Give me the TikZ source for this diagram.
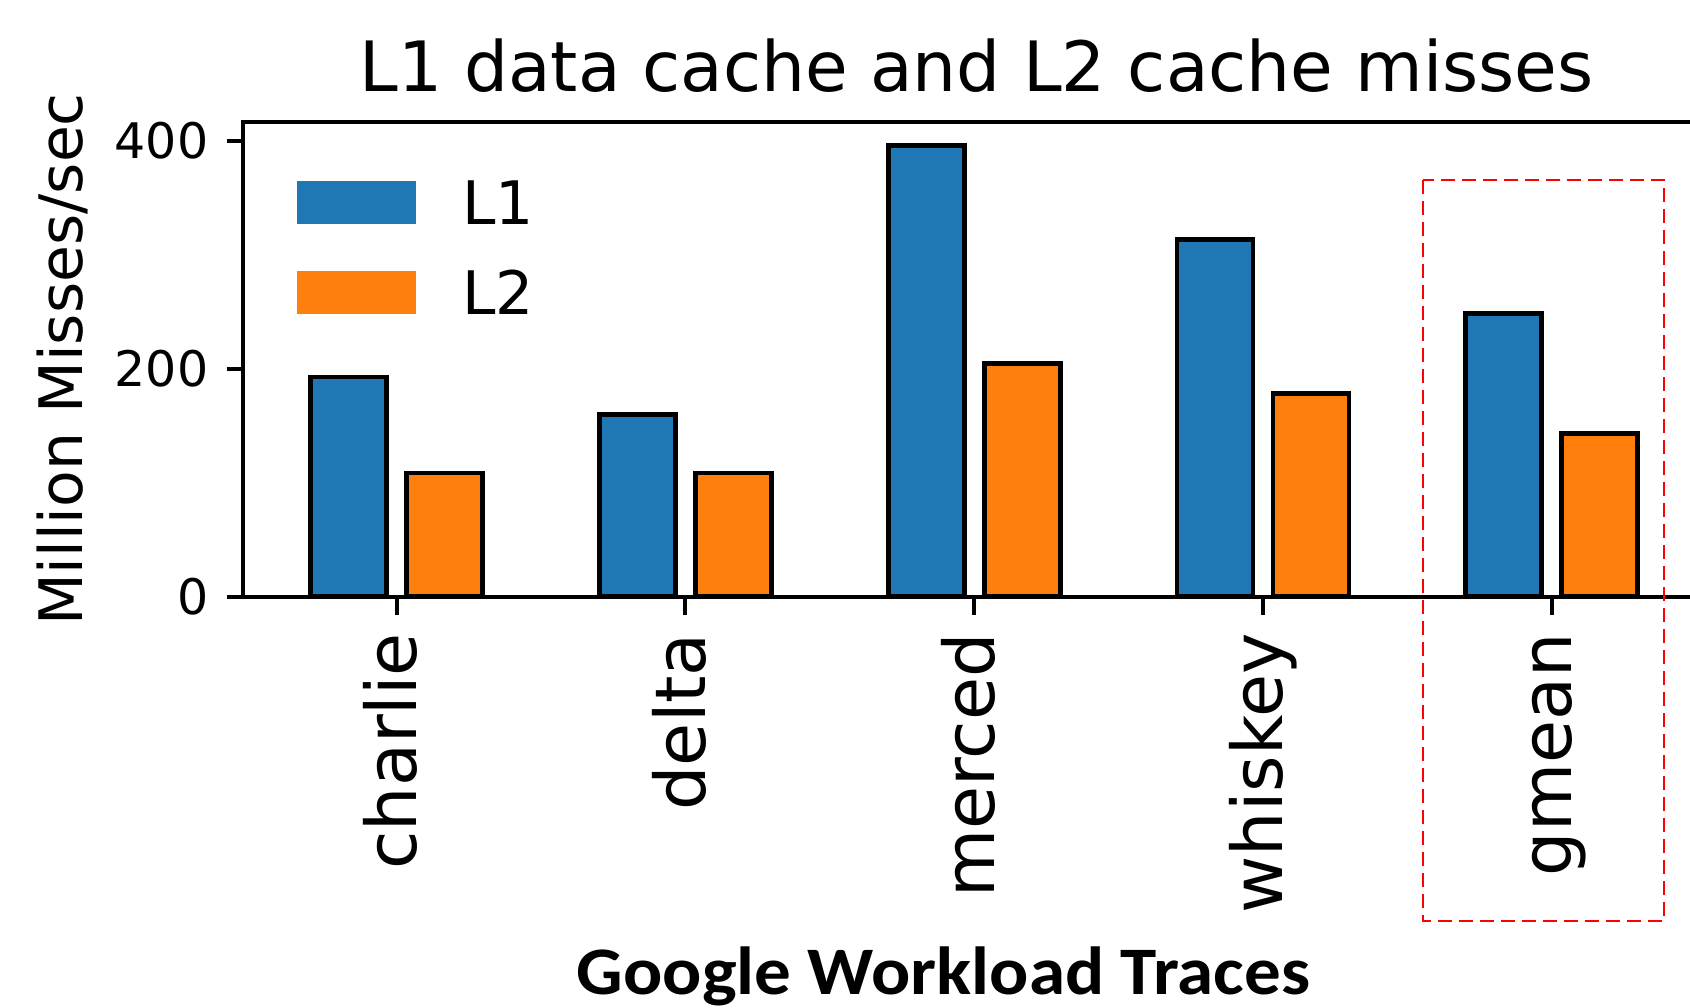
\documentclass[tikz,border=0pt]{standalone}
\usepackage{graphicx}
\usepackage{fontspec}
\setmainfont{DejaVu Sans}
\newfontfamily\xlabelfont{Carlito}
\definecolor{barblue}{HTML}{1F77B4}
\definecolor{barorange}{HTML}{FF7F0E}
\begin{document}
\begin{tikzpicture}[x=1pt, y=-1pt]
	\useasboundingbox (0,0) rectangle (1690,1008);
	
	% bars, ticks and labels per trace
	\foreach \name/\i/\lone/\ltwo in {charlie/0/193/108.5, delta/1/160/108.5, merced/2/396/204.6, whiskey/3/313.8/178.6, gmean/4/248.8/143.5} {
		\pgfmathsetmacro{\tick}{396.7+288.75*\i}
		\draw[fill=barblue, line width=4.6pt] (\tick-86,596.7) rectangle (\tick-10,{596.7-1.139*\lone});
		\draw[fill=barorange, line width=4.6pt] (\tick+10,596.7) rectangle (\tick+86,{596.7-1.139*\ltwo});
		\draw[line width=4pt] (\tick,596.7) -- (\tick,615);
		\node (\name) [rotate=90, anchor=base east, inner sep=0pt, font=\fontsize{70}{84}\selectfont] at (\tick+20,633) {\name};
	}
	
	% axes
	\draw[line width=4pt] (1690,122.3) -- (243.3,122.3) -- (243.3,596.7) -- (1690,596.7);
	\foreach \v in {0,200,400} {
		\draw[line width=4pt] (226.7,{596.7-1.139*\v}) -- (243.3,{596.7-1.139*\v});
		\node (ytick\v) [anchor=east, inner sep=0pt, font=\fontsize{49}{59}\selectfont] at (208.5,{596.7-1.139*\v}) {\v};
	}
	
	% legend
	\fill[barblue] (297,181) rectangle (416,223.7);
	\fill[barorange] (297,271) rectangle (416,313.7);
	\node (legone) [anchor=base west, inner sep=0pt, font=\fontsize{60}{72}\selectfont] at (462,224.3) {L1};
	\node (legtwo) [anchor=base west, inner sep=0pt, font=\fontsize{60}{72}\selectfont] at (462,314.3) {L2};
	
	% titles
	\node (title) [anchor=base, inner sep=0pt, font=\fontsize{69.4}{83}\selectfont] at (976.5,91.7) {L1 data cache and L2 cache misses};
	\node (ylabel) [rotate=90, anchor=base, inner sep=0pt, font=\fontsize{60}{72}\selectfont] at (82.7,359.5) {Million Misses/sec};
	\node (xlabel) [anchor=base, inner sep=0pt, font=\xlabelfont\bfseries\fontsize{68}{82}\selectfont] at (943.5,994.5) {\scalebox{1.075}[1]{Google Workload Traces}};
	
	% highlight box
	\draw[red, line width=2.3pt, dash pattern=on 14pt off 7pt] (1422.7,180.3) rectangle (1664.3,921);
\end{tikzpicture}
\end{document}
